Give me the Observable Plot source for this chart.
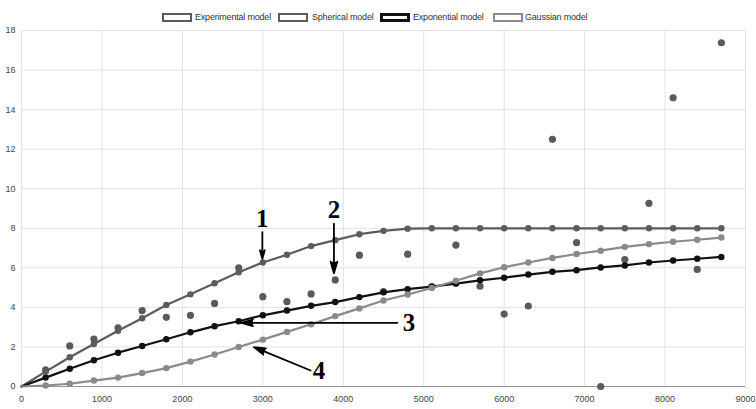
<!DOCTYPE html>
<html><head><meta charset="utf-8">
<script src="https://cdn.jsdelivr.net/npm/d3@7"></script>
<script src="https://cdn.jsdelivr.net/npm/@observablehq/plot@0.6"></script>
<style>
body{margin:0;background:#fff;font-family:"Liberation Sans",Arial,sans-serif;}
#wrap{position:relative;width:756px;height:409px;}
#legend{position:absolute;top:0;left:0;width:756px;height:30px;}
.item{position:absolute;top:12px;height:10px;display:flex;align-items:center;font-size:9px;color:#333;letter-spacing:-0.2px;white-space:nowrap;}
.sw{width:30px;height:9px;box-sizing:border-box;background:#fff;margin-right:4px;}
#chart{position:absolute;top:0;left:0;}
</style></head>
<body><div id="wrap"><div id="chart"></div><div id="legend"></div></div>
<script>
// Lag distances (model curves include 0)
const lags = [0,300,600,900,1200,1500,1800,2100,2400,2700,3000,3300,3600,3900,4200,4500,4800,5100,5400,5700,6000,6300,6600,6900,7200,7500,7800,8100,8400,8700];
// Experimental semivariance (lags 300..8700)
const experimental = [0.84,2.05,2.4,2.97,3.84,3.5,3.6,4.2,6.0,4.54,4.29,4.68,5.39,6.64,4.8,6.69,5.05,7.15,5.07,3.66,4.07,12.5,7.27,0.0,6.42,9.26,14.6,5.92,17.38];
const spherical = [0,0.75,1.48,2.15,2.82,3.45,4.12,4.66,5.22,5.78,6.27,6.66,7.1,7.4,7.7,7.87,7.98,8,8,8,8,8,8,8,8,8,8,8,8,8];
const exponential = [0,0.45,0.9,1.33,1.71,2.05,2.39,2.74,3.05,3.3,3.6,3.84,4.08,4.27,4.52,4.76,4.92,5.05,5.2,5.37,5.5,5.66,5.8,5.88,6.02,6.12,6.27,6.37,6.46,6.55];
const gaussian = [0,0.05,0.14,0.3,0.45,0.68,0.93,1.26,1.62,2.0,2.37,2.76,3.15,3.56,3.95,4.35,4.65,4.98,5.35,5.72,6.03,6.27,6.5,6.7,6.87,7.06,7.2,7.32,7.42,7.53];
const xTicks = [0,1000,2000,3000,4000,5000,6000,7000,8000,9000];
const yTicks = [0,2,4,6,8,10,12,14,16,18];
const seriesNames = ["Experimental model","Spherical model","Exponential model","Gaussian model"];
const seriesColors = ["#5a5a5a","#5c5c5c","#111111","#8a8a8a"];
// Annotation labels and arrows (data units)
const labels = [{x:2994,y:8.48,t:"1"},{x:3884,y:8.93,t:"2"},{x:4817,y:3.22,t:"3"},{x:3698,y:0.77,t:"4"}];
const arrows = [
  {x1:2994,y1:7.8,x2:2994,y2:6.46},
  {x1:3884,y1:8.23,x2:3884,y2:5.73},
  {x1:4672,y1:3.22,x2:2733,y2:3.22},
  {x1:3594,y1:0.81,x2:2889,y2:1.99}
];

const expData = experimental.map((v,i)=>({lag:lags[i+1],v}));
const mk = arr => arr.map((v,i)=>({lag:lags[i],v}));
const sph = mk(spherical), expo = mk(exponential), gau = mk(gaussian);
const noZero = d => d.filter(p=>p.lag>0);

const chart = Plot.plot({
  width:756, height:409,
  marginTop:30, marginBottom:23, marginLeft:21, marginRight:11,
  x:{domain:[0,9000], label:null},
  y:{domain:[0,18], label:null},
  style:{fontFamily:"'Liberation Sans',Arial,sans-serif", fontSize:"9px", color:"#444", background:"#fff"},
  marks:[
    Plot.gridX(xTicks,{stroke:"#e2e2e2", strokeOpacity:1}),
    Plot.gridY(yTicks,{stroke:"#e2e2e2", strokeOpacity:1}),
    Plot.ruleY([0],{stroke:"#999"}),
    Plot.axisX(xTicks,{tickSize:0, tickPadding:9, tickFormat:d=>String(d), label:null, fill:"#444"}),
    Plot.axisY(yTicks,{tickSize:0, tickPadding:6, label:null, fill:"#444"}),
    Plot.dot(expData,{x:"lag", y:"v", r:3.6, fill:seriesColors[0]}),
    Plot.line(sph,{x:"lag", y:"v", stroke:seriesColors[1], strokeWidth:2.2}),
    Plot.dot(noZero(sph),{x:"lag", y:"v", r:3.2, fill:seriesColors[1]}),
    Plot.line(expo,{x:"lag", y:"v", stroke:seriesColors[2], strokeWidth:2.2}),
    Plot.dot(noZero(expo),{x:"lag", y:"v", r:3.2, fill:seriesColors[2]}),
    Plot.line(gau,{x:"lag", y:"v", stroke:seriesColors[3], strokeWidth:2.2}),
    Plot.dot(noZero(gau),{x:"lag", y:"v", r:3.2, fill:seriesColors[3]}),
    Plot.arrow(arrows,{x1:"x1", y1:"y1", x2:"x2", y2:"y2", stroke:"#000", fill:"#000", strokeWidth:1.8, headLength:10, headAngle:32, insetEnd:0}),
    Plot.text(labels,{x:"x", y:"y", text:"t", fontFamily:"'Liberation Serif','Times New Roman',serif", fontWeight:"bold", fontSize:25, fill:"#000", textAnchor:"middle", lineAnchor:"middle"})
  ]
});
document.getElementById("chart").appendChild(chart);

// Legend
const legendPos = [[162,195],[278,312],[380,413],[493,525]];
const borderW = [2,2,3,2];
const lg = document.getElementById("legend");
seriesNames.forEach((name,i)=>{
  const it = document.createElement("div");
  it.className="item";
  it.style.left = legendPos[i][0]+"px";
  const sw = document.createElement("div");
  sw.className="sw";
  sw.style.border = borderW[i]+"px solid "+seriesColors[i];
  sw.style.marginRight = (legendPos[i][1]-legendPos[i][0]-30)+"px";
  it.appendChild(sw);
  const tx = document.createElement("span");
  tx.textContent = name;
  it.appendChild(tx);
  lg.appendChild(it);
});
</script>
</body></html>
